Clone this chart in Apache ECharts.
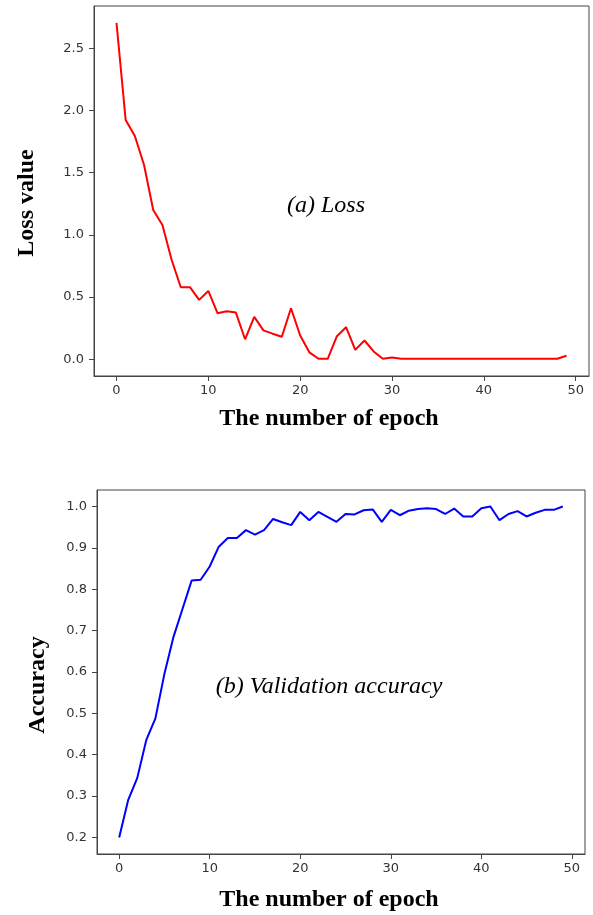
<!DOCTYPE html>
<html>
<head>
<meta charset="utf-8">
<script src="https://cdn.jsdelivr.net/npm/echarts@6/dist/echarts.min.js"></script>
<style>
html,body{margin:0;padding:0;background:#fff;}
#chart{width:593px;height:915px;}
</style>
</head>
<body>
<div id="chart"></div>
<script>
const epochs = Array.from({length: 50}, (_, i) => i);
const lossValues = [
  2.706, 1.924, 1.795, 1.562, 1.20, 1.08, 0.80, 0.579, 0.579, 0.477,
  0.549, 0.370, 0.386, 0.375, 0.160, 0.340, 0.232, 0.205, 0.180, 0.410,
  0.190, 0.055, 0.003, 0.003, 0.185, 0.257, 0.075, 0.150, 0.062, 0.003,
  0.013, 0.003, 0.003, 0.003, 0.003, 0.003, 0.003, 0.003, 0.003, 0.003,
  0.003, 0.003, 0.003, 0.003, 0.003, 0.003, 0.003, 0.003, 0.003, 0.027
];
const accuracyValues = [
  0.200, 0.291, 0.344, 0.436, 0.488, 0.596, 0.685, 0.753, 0.821, 0.823,
  0.855, 0.903, 0.924, 0.924, 0.943, 0.932, 0.943, 0.970, 0.962, 0.955,
  0.987, 0.967, 0.987, 0.975, 0.963, 0.982, 0.981, 0.991, 0.993, 0.963,
  0.992, 0.979, 0.990, 0.994, 0.996, 0.994, 0.982, 0.995, 0.976, 0.976,
  0.996, 1.000, 0.967, 0.982, 0.989, 0.976, 0.985, 0.992, 0.992, 1.000
];
const xTicks = [0, 10, 20, 30, 40, 50];
const lossTicks = [0, 0.5, 1.0, 1.5, 2.0, 2.5];
const accTicks = [0.2, 0.3, 0.4, 0.5, 0.6, 0.7, 0.8, 0.9, 1.0];

const axisColor = '#444';
const labelColor = '#333';
const tickFont = 'DejaVu Sans';
const serif = '"Liberation Serif", "Times New Roman", serif';

function xAxisDef(gridIndex) {
  return {
    type: 'value', gridIndex: gridIndex, min: -2.45, max: 51.45,
    axisLine: {show: true, onZero: false, lineStyle: {color: axisColor, width: 1}},
    axisTick: {show: true, customValues: xTicks, length: 5, lineStyle: {color: axisColor}},
    axisLabel: {customValues: xTicks, margin: 8, color: labelColor, fontFamily: tickFont, fontSize: 13},
    splitLine: {show: false}
  };
}
function yAxisDef(gridIndex, min, max, ticks) {
  return {
    type: 'value', gridIndex: gridIndex, min: min, max: max,
    axisLine: {show: true, onZero: false, lineStyle: {color: axisColor, width: 1}},
    axisTick: {show: true, customValues: ticks, length: 5, lineStyle: {color: axisColor}},
    axisLabel: {customValues: ticks, margin: 10, color: labelColor, fontFamily: tickFont, fontSize: 13,
      formatter: v => v.toFixed(1)},
    splitLine: {show: false}
  };
}

const chart = echarts.init(document.getElementById('chart'), null, {renderer: 'canvas'});
chart.setOption({
  backgroundColor: '#fff',
  animation: false,
  grid: [
    {left: 94, top: 6, width: 495, height: 370, show: true, borderColor: axisColor, borderWidth: 1, backgroundColor: 'transparent'},
    {left: 97, top: 490, width: 488, height: 364, show: true, borderColor: axisColor, borderWidth: 1, backgroundColor: 'transparent'}
  ],
  xAxis: [xAxisDef(0), xAxisDef(1)],
  yAxis: [
    yAxisDef(0, -0.1355, 2.8415, lossTicks),
    yAxisDef(1, 0.16, 1.04, accTicks)
  ],
  series: [
    {type: 'line', xAxisIndex: 0, yAxisIndex: 0, data: epochs.map((e, i) => [e, lossValues[i]]),
      showSymbol: false, lineStyle: {color: '#ff0000', width: 2}, itemStyle: {color: '#ff0000'}},
    {type: 'line', xAxisIndex: 1, yAxisIndex: 1, data: epochs.map((e, i) => [e, accuracyValues[i]]),
      showSymbol: false, lineStyle: {color: '#0000ff', width: 2}, itemStyle: {color: '#0000ff'}}
  ],
  graphic: [
    {type: 'text', x: 27, y: 203, rotation: Math.PI / 2,
      style: {text: 'Loss value', font: 'bold 24px ' + serif, fill: '#000', textAlign: 'center', textVerticalAlign: 'middle'}},
    {type: 'text', x: 329, y: 419,
      style: {text: 'The number of epoch', font: 'bold 24px ' + serif, fill: '#000', textAlign: 'center', textVerticalAlign: 'middle'}},
    {type: 'text', x: 326, y: 206,
      style: {text: '(a) Loss', font: 'italic 24px ' + serif, fill: '#000', textAlign: 'center', textVerticalAlign: 'middle'}},
    {type: 'text', x: 38, y: 685, rotation: Math.PI / 2,
      style: {text: 'Accuracy', font: 'bold 24px ' + serif, fill: '#000', textAlign: 'center', textVerticalAlign: 'middle'}},
    {type: 'text', x: 329, y: 687,
      style: {text: '(b) Validation accuracy', font: 'italic 24px ' + serif, fill: '#000', textAlign: 'center', textVerticalAlign: 'middle'}},
    {type: 'text', x: 329, y: 900,
      style: {text: 'The number of epoch', font: 'bold 24px ' + serif, fill: '#000', textAlign: 'center', textVerticalAlign: 'middle'}}
  ]
});
</script>
</body>
</html>
